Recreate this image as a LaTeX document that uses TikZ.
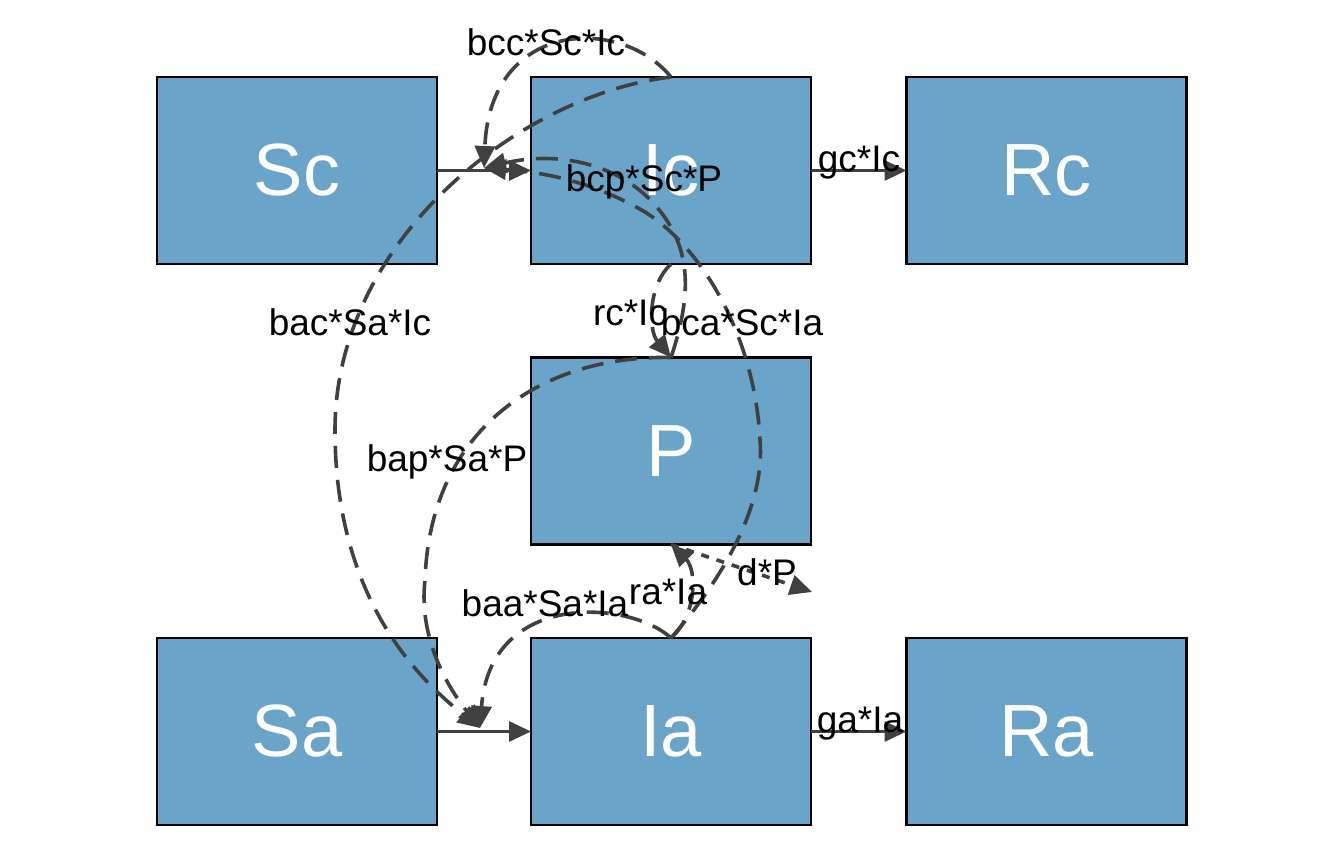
\documentclass[tikz,border=0pt]{standalone}
\usepackage{fontspec}
\setmainfont{Liberation Sans}
\usetikzlibrary{arrows.meta}
\definecolor{boxfill}{RGB}{106,164,201}
\definecolor{linegray}{RGB}{64,64,64}
\begin{document}
\begin{tikzpicture}[x=0.5pt,y=-0.5pt,
  box/.style={draw=black,line width=1.2pt,fill=boxfill,minimum width=140pt,minimum height=93.5pt,inner sep=0pt,outer sep=0pt,text=white,font=\fontsize{37}{40}\selectfont},
  lbl/.style={text=black,font=\fontsize{18.5}{20}\selectfont,inner sep=0pt},
  tip/.style={-{Triangle[length=11pt,width=10pt]}},
  flow/.style={draw=linegray,line width=1.6pt,tip},
  inter/.style={draw=linegray,line width=1.8pt,dash pattern=on 11pt off 6pt,tip},
  outflow/.style={draw=linegray,line width=1.8pt,dash pattern=on 4pt off 4pt,tip}]
\useasboundingbox (0,0) rectangle (1344,865);
% boxes
\node[box] (Sc) at (297,170.5) {Sc};
\node[box] (Ic) at (671,170.5) {Ic};
\node[box] (Rc) at (1046.5,170.5) {Rc};
\node[box] (P)  at (671,451) {P};
\node[box] (Sa) at (297,731.5) {Sa};
\node[box] (Ia) at (671,731.5) {Ia};
\node[box] (Ra) at (1046.5,731.5) {Ra};
% midpoints / free ends
\coordinate (m1) at (484,168);
\coordinate (m2) at (480,728);
\coordinate (dend) at (812,592);
% main flows
\draw[flow] (Sc.east) -- (Ic.west);
\draw[flow] (Ic.east) -- (Rc.west);
\draw[flow] (Sa.east) -- (Ia.west);
\draw[flow] (Ia.east) -- (Ra.west);
% interactions
\draw[inter] (Ic.north) .. controls (620,15) and (490,20) .. (m1);
\draw[inter] (Ic.north) .. controls (520,95) and (335,240) .. (335,430)
                        .. controls (335,600) and (420,680) .. (m2);
\draw[inter] (P.north) .. controls (690,300) and (695,250) .. (655,205)
                       .. controls (620,165) and (560,150) .. (m1);
\draw[inter] (Ia.north) .. controls (730,570) and (765,500) .. (760,440)
                        .. controls (755,340) and (705,250) .. (645,212)
                        .. controls (590,180) and (540,172) .. (m1);
\draw[inter] (Ic.south) .. controls (648,285) and (648,330) .. (P.north);
\draw[inter] (P.north) .. controls (540,355) and (430,430) .. (425,580)
                       .. controls (418,640) and (450,690) .. (m2);
\draw[inter] (Ia.north) .. controls (697,615) and (697,570) .. (P.south);
\draw[inter] (Ia.north) .. controls (630,600) and (490,590) .. (m2);
\draw[outflow] (P.south) -- (dend);
% labels
\node[lbl] (lbcc) at (546,42) {bcc*Sc*Ic};
\node[lbl] (lgc) at (859,163) {gc*Ic};
\node[lbl] (lbcp) at (644,182) {bcp*Sc*P};
\node[lbl] (lbac) at (350,322) {bac*Sa*Ic};
\node[lbl] (lrc) at (630,313) {rc*Ic};
\node[lbl] (lbca) at (742,322) {bca*Sc*Ia};
\node[lbl] (lbap) at (447,462) {bap*Sa*P};
\node[lbl] (ldp) at (767,572) {d*P};
\node[lbl] (lbaa) at (545,603) {baa*Sa*Ia};
\node[lbl] (lra) at (668,592) {ra*Ia};
\node[lbl] (lga) at (860,724) {ga*Ia};
\end{tikzpicture}
\end{document}
